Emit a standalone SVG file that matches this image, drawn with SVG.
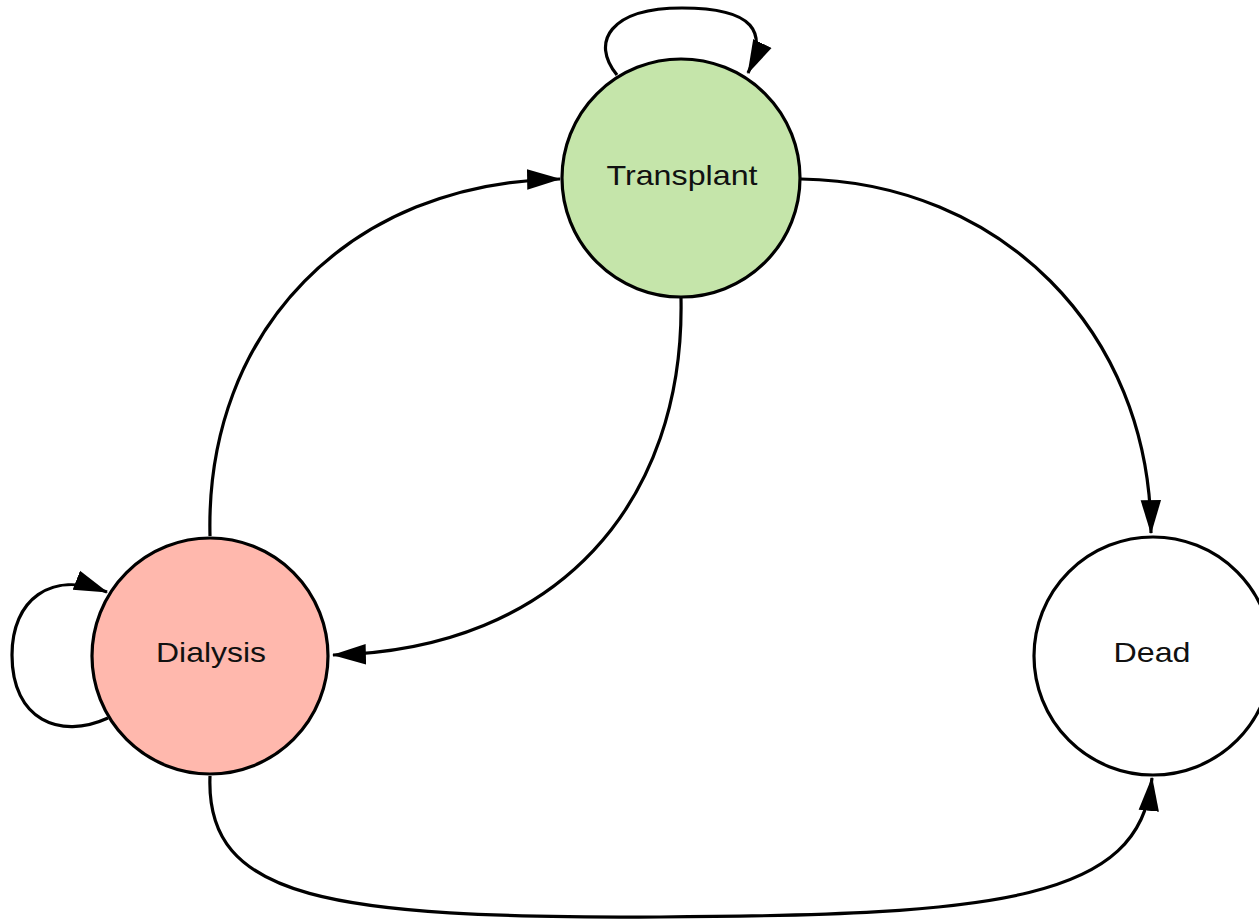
<svg xmlns="http://www.w3.org/2000/svg" width="1259" height="921" viewBox="0 0 1259 921">
<style>
.node{stroke:#000;stroke-width:3.2}
.lbl{font-family:"Liberation Sans",Arial,sans-serif;font-size:28px;fill:#111;text-anchor:middle}
.edge{fill:none;stroke:#000;stroke-width:3.2;marker-end:url(#arr)}
</style>
<defs>
<marker id="arr" markerUnits="userSpaceOnUse" markerWidth="34" markerHeight="24" viewBox="0 0 30 20" refX="29" refY="10" orient="auto">
<path d="M0,1 L30,10 L0,19 Z" fill="#000"/>
</marker>
</defs>
<rect width="1259" height="921" fill="#fff"/>
<g id="connectors">
<path class="edge" d="M210,536 C205,330 350,182 560,179"/>
<path class="edge" d="M681,298 C685,500 560,650 333,655"/>
<path class="edge" d="M801,179 C1000,182 1150,330 1151,533"/>
<path class="edge" d="M210,776 C205,900 330,918 660,917 C1000,915 1140,900 1152,778"/>
<path class="edge" d="M617,75 C590,42 610,8 682,8 C755,8 768,32 748,73"/>
<path class="edge" d="M108,718 C60,740 12,720 12,655 C12,600 50,570 107,592"/>
</g>
<g id="transplant">
<circle class="node" cx="681" cy="178" r="119" fill="#c5e5aa"/>
<text class="lbl" x="682" y="185" textLength="151" lengthAdjust="spacingAndGlyphs">Transplant</text>
</g>
<g id="dialysis">
<circle class="node" cx="210" cy="656" r="118" fill="#ffb8ad"/>
<text class="lbl" x="211" y="662" textLength="110" lengthAdjust="spacingAndGlyphs">Dialysis</text>
</g>
<g id="dead">
<circle class="node" cx="1153" cy="656" r="119" fill="#fff"/>
<text class="lbl" x="1152" y="662" textLength="77" lengthAdjust="spacingAndGlyphs">Dead</text>
</g>
</svg>
